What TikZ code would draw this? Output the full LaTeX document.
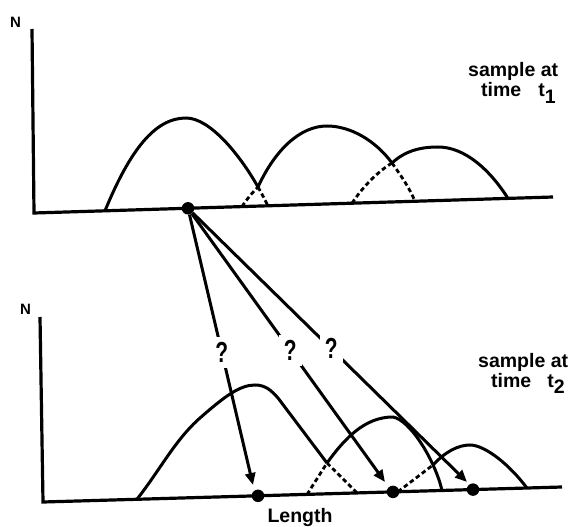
\documentclass[tikz,border=0pt]{standalone}
\usepackage{fontspec}
\setmainfont{Liberation Sans}
\usepackage{graphicx}
\usetikzlibrary{arrows.meta}
\tikzset{
  ax/.style={line width=3.2pt},
  crv/.style={line width=3pt},
  dsh/.style={line width=2.8pt, dash pattern=on 4.5pt off 3pt},
  arr/.style={line width=3pt, -{Triangle[length=12pt,width=10pt]}},
  dot/.style={circle, fill=black, minimum size=12.5pt, inner sep=0pt},
  qm/.style={fill=white, inner sep=5pt, font=\bfseries\fontsize{29}{32}\selectfont},
  lbl/.style={inner sep=0pt, font=\bfseries\fontsize{19.5}{22}\selectfont},
  nlbl/.style={inner sep=0pt, font=\bfseries\fontsize{15}{17}\selectfont},
}
\begin{document}
\begin{tikzpicture}[x=1pt,y=-1pt]
\useasboundingbox (0,0) rectangle (571,527);

% ---------- top panel ----------
\node[nlbl, anchor=base] (N1) at (15.5,27.5) {N};
\coordinate (y1top) at (32,29);
\coordinate (o1) at (34,213);
\coordinate (x1end) at (553,197);
\draw[ax] (y1top) -- (o1) -- (x1end);

% hump 1
\draw[crv] (105,210.8) .. controls (130,150) and (155,118) .. (186,118)
  .. controls (210,118) and (240,155) .. (258,187);
\draw[dsh] (258,187) .. controls (262,194) and (265,200) .. (268,205.8);
% hump 2
\draw[dsh] (242,206.6) .. controls (247,199) and (252,193) .. (258,187);
\draw[crv] (258,187) .. controls (275,150) and (300,126) .. (327,126)
  .. controls (350,126) and (375,140) .. (392,163);
\draw[dsh] (392,163) .. controls (402,177) and (410,189) .. (415,201.3);
% hump 3
\draw[dsh] (352,203.2) .. controls (362,188) and (377,172) .. (392,163);
\draw[crv] (392,163) .. controls (405,151) and (420,147) .. (438,147)
  .. controls (465,147) and (490,170) .. (508,198.4);

\node[lbl, anchor=base west] (s1) at (468,77) {sample at};
\node[lbl, anchor=base west] (t1) at (481,97) {time\hspace{17pt}t\raisebox{-6pt}{1}};

% ---------- bottom panel ----------
\node[nlbl, anchor=base] (N2) at (25.5,314.5) {N};
\coordinate (y2top) at (40,317);
\coordinate (o2) at (43,502);
\coordinate (x2end) at (562,487);
\draw[ax] (y2top) -- (o2) -- (x2end);

% hump 1
\draw[crv] (137,499.2) .. controls (160,470) and (175,440) .. (200,418)
  .. controls (225,396) and (240,385) .. (255,385)
  .. controls (265,385) and (271,390) .. (278,398) -- (327,463);
\draw[dsh] (327,463) -- (357,492.9);
% hump 2
\draw[dsh] (307,494.5) -- (327,463);
\draw[crv] (327,463) .. controls (345,438) and (365,417) .. (393,417)
  .. controls (410,420) and (435,460) .. (442,490.5);
% hump 3
\draw[dsh] (398,491.7) -- (433,465);
\draw[crv] (433,465) .. controls (445,452) and (458,445) .. (470,445)
  .. controls (485,445) and (510,465) .. (527,488.2);

\node[lbl, anchor=base west] (s2) at (478,367) {sample at};
\node[lbl, anchor=base west] (t2) at (491,387) {time\hspace{16pt}t\raisebox{-6pt}{2}};
\node[lbl, anchor=base] (len) at (300,522) {Length};

% ---------- dots and arrows ----------
\node[dot] (d0) at (188,208.3) {};
\node[dot] (d1) at (258,495.8) {};
\node[dot] (d2) at (393,491.9) {};
\node[dot] (d3) at (473,489.6) {};
\coordinate (a1) at (253,485);
\coordinate (a2) at (385,482);
\coordinate (a3) at (467,482);
\draw[arr] (d0) -- node[qm, pos=0.51] (q1) {\scalebox{0.72}[1]{?}} (a1);
\draw[arr] (d0) -- node[qm, pos=0.51] (q2) {\scalebox{0.72}[1]{?}} (a2);
\draw[arr] (d0) -- node[qm, pos=0.505] (q3) {\scalebox{0.72}[1]{?}} (a3);
\end{tikzpicture}
\end{document}
